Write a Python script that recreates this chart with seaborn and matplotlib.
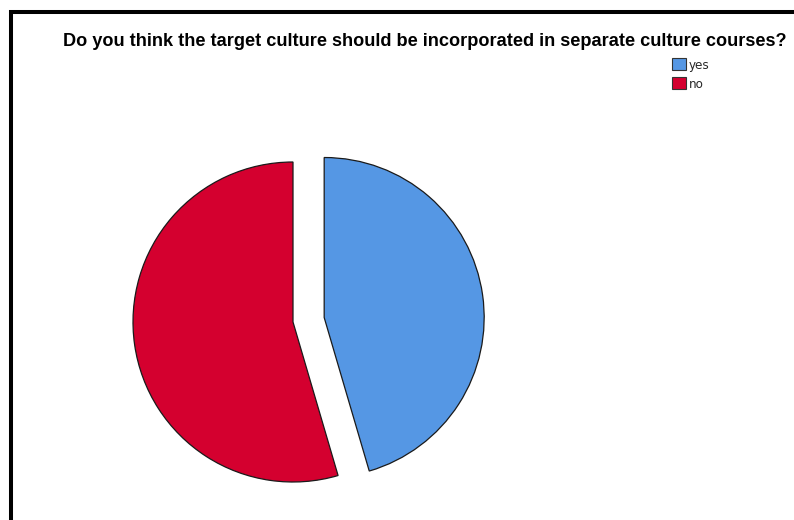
import matplotlib
matplotlib.use("Agg")
import matplotlib.pyplot as plt
from matplotlib.patches import Rectangle
import seaborn as sns

# Survey answers
categories = ["yes", "no"]
counts = [25, 30]
title = "Do you think the target culture should be incorporated in separate culture courses?"

sns.set_theme(style="white")
plt.rcParams["font.family"] = ["Liberation Sans", "DejaVu Sans"]

palette = ["#5597E4", "#D4002F"]

W, H = 794, 520
fig = plt.figure(figsize=(W / 100, H / 100), dpi=100)
fig.patch.set_facecolor("white")

# axes spans the whole figure; one data unit equals the pie radius (160 px)
R = 160.0
ax = fig.add_axes([0, 0, 1, 1])
center = (293 / R, (H - 322) / R)
wedges, _ = ax.pie(
    counts,
    colors=palette,
    startangle=90,
    counterclock=False,
    explode=[31.5 / R, 0],
    center=center,
    radius=1.0,
    wedgeprops=dict(edgecolor="#1a1a1a", linewidth=0.9),
)
ax.set_xlim(0, W / R)
ax.set_ylim(0, H / R)
ax.set_aspect("equal")
ax.axis("off")

fig.text(63 / W, 1 - 46 / H, title, fontsize=13.1, fontweight="bold",
         ha="left", va="baseline", color="black")

leg = fig.legend(
    wedges, categories,
    loc="upper left", bbox_to_anchor=(672 / W, 1 - 58 / H),
    frameon=False,
    handlelength=1.05, handleheight=1.05, handletextpad=0.2,
    labelspacing=0.42, borderpad=0, borderaxespad=0,
    prop={"family": ["Liberation Sans Narrow", "DejaVu Sans"],
          "stretch": "condensed", "size": 9.5},
)
for h in leg.legend_handles:
    h.set_edgecolor("#333333")
    h.set_linewidth(0.8)

# outer frame running off the right and bottom edges
fig.patches.append(Rectangle((11 / W, -0.1), 1.2, 1 - 12 / H + 0.1,
                             transform=fig.transFigure, fill=False,
                             edgecolor="black", linewidth=2.9, clip_on=False))

fig.savefig("out.png", dpi=100, facecolor="white")
